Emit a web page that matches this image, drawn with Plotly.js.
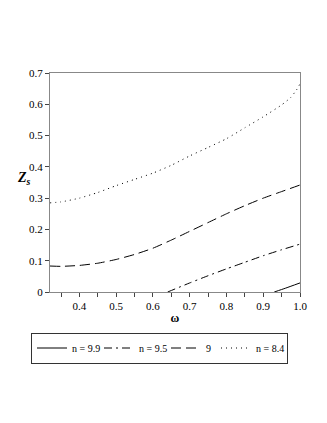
<!DOCTYPE html>
<html>
<head>
<meta charset="utf-8">
<script src="https://cdn.plot.ly/plotly-3.0.1.min.js"></script>
<style>
  html, body { margin: 0; padding: 0; background: #fff; }
  #chart { width: 327px; height: 423px; }
</style>
</head>
<body>
<div id="chart"></div>
<script>
// values (omega vs Z_s)
const omegaN99 = [0.93, 0.96, 1.0];
const zN99 = [0, 0.012, 0.029];

const omegaN95 = [0.64, 0.7, 0.75, 0.8, 0.85, 0.9, 0.95, 1.0];
const zN95 = [0, 0.029, 0.052, 0.074, 0.095, 0.116, 0.135, 0.153];

const omegaN9 = [0.32, 0.35, 0.4, 0.45, 0.5, 0.55, 0.6, 0.65, 0.7, 0.75, 0.8, 0.85, 0.9, 0.95, 1.0];
const zN9 = [0.083, 0.082, 0.085, 0.092, 0.104, 0.12, 0.14, 0.166, 0.194, 0.222, 0.25, 0.276, 0.3, 0.321, 0.342];

const omegaN84 = [0.32, 0.35, 0.4, 0.45, 0.5, 0.55, 0.6, 0.65, 0.7, 0.75, 0.8, 0.85, 0.9, 0.95, 0.975, 0.99, 1.0];
const zN84 = [0.285, 0.288, 0.3, 0.318, 0.34, 0.36, 0.38, 0.405, 0.435, 0.462, 0.49, 0.525, 0.56, 0.598, 0.622, 0.645, 0.665];

const legendNames = ['n = 9.9', 'n = 9.5', '9', 'n = 8.4'];
const xTicks = [0.4, 0.5, 0.6, 0.7, 0.8, 0.9, 1.0];
const yTicks = [0, 0.1, 0.2, 0.3, 0.4, 0.5, 0.6, 0.7];

const serif = '"Liberation Serif", "Times New Roman", serif';

function curve(x, y, name, dash, lw) {
    return {
        type: 'scatter',
        mode: 'lines',
        name: name,
        x: x,
        y: y,
        legendwidth: lw,
        line: {color: '#000', width: 1, dash: dash, shape: 'spline', smoothing: 0.5},
        hoverinfo: 'skip'
    };
}

const traces = [
    curve(omegaN99, zN99, legendNames[0], 'solid', 22),
    curve(omegaN95, zN95, legendNames[1], '8px,4px,2px,4px', 22),
    curve(omegaN9, zN9, legendNames[2], '10px,5px', 5),
    curve(omegaN84, zN84, legendNames[3], '1px,4px', 26)
];

const axisBase = {
    showgrid: false,
    zeroline: false,
    showline: true,
    mirror: true,
    linecolor: '#888',
    linewidth: 1,
    ticks: 'outside',
    ticklen: 4,
    tickcolor: '#444',
    tickfont: {family: serif, size: 11, color: '#000'}
};

const layout = {
    width: 327,
    height: 423,
    font: {family: serif, size: 11, color: '#000'},
    paper_bgcolor: '#fff',
    plot_bgcolor: '#fff',
    margin: {l: 50, r: 27, t: 73, b: 131},
    showlegend: true,
    xaxis: Object.assign({}, axisBase, {
        range: [0.32, 1.0],
        tickvals: xTicks,
        tickformat: '.1f',
        minor: {dtick: 0.05, tick0: 0, ticks: 'outside', ticklen: 4, tickcolor: '#444'},
        title: {text: '<b>ω</b>', font: {family: serif, size: 12, color: '#000'}, standoff: 2}
    }),
    yaxis: Object.assign({}, axisBase, {
        range: [0, 0.7],
        tickvals: yTicks
    }),
    legend: {
        orientation: 'h',
        x: -0.076,
        xanchor: 'left',
        y: -0.185,
        yanchor: 'top',
        bordercolor: '#333',
        borderwidth: 1,
        font: {family: serif, size: 10, color: '#000'},
        itemwidth: 30,
        tracegroupgap: 0
    },
    annotations: [{
        xref: 'paper',
        yref: 'paper',
        x: -0.14,
        y: 0.52,
        showarrow: false,
        text: '<b><i>Z</i></b><sub><b><i>s</i></b></sub>',
        font: {family: serif, size: 14, color: '#000'}
    }]
};

Plotly.newPlot('chart', traces, layout, {staticPlot: true, displayModeBar: false});
</script>
</body>
</html>
